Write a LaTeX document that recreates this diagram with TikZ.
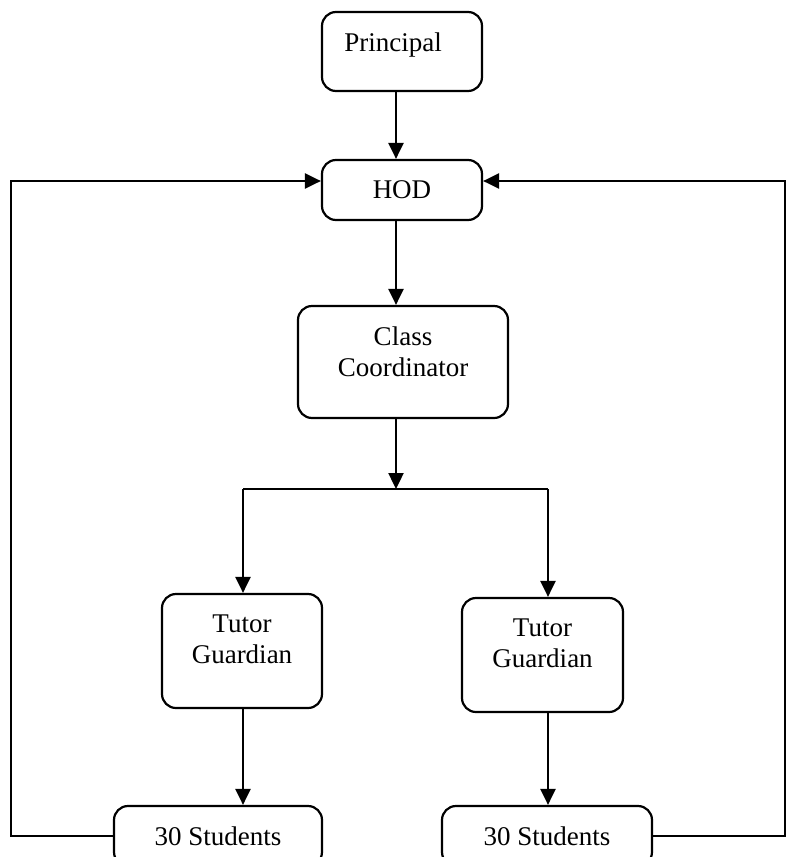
\documentclass[tikz,border=0pt]{standalone}
\usepackage{fontspec}
\setmainfont{Liberation Serif}
\usepackage{tikz}
\usetikzlibrary{arrows.meta,positioning,calc}
\tikzset{
  box/.style={rectangle,rounded corners=14pt,draw=black,line width=2.2pt,
              minimum width=160pt,inner sep=0pt},
  txt/.style={align=center,inner sep=3pt,font=\fontsize{27}{31}\selectfont},
  arr/.style={-{Triangle[length=16pt,width=15pt]},draw=black,line width=2.4pt},
  link/.style={draw=black,line width=2.4pt},
}

\begin{document}
\begin{tikzpicture}[x=1pt,y=-1pt]
  \useasboundingbox (0,0) rectangle (786,857);
  % boxes
  \node[box,minimum height=79pt] (principal) at (402,51.5) {};
  \node[box,minimum height=60pt] (hod) at (402,190) {};
  \node[box,minimum width=210pt,minimum height=112pt] (cc) at (403,362) {};
  \node[box,minimum height=114pt] (tgl) at (242,651) {};
  \node[box,minimum width=161pt,minimum height=114pt] (tgr) at (542.5,655) {};
  \node[box,minimum width=208pt,minimum height=60pt] (stl) at (218,836) {};
  \node[box,minimum width=210pt,minimum height=60pt] (str) at (547,836) {};
  % texts
  \node[txt,below=19pt of principal.north,xshift=-9pt] (principal-t) {Principal};
  \node[txt,below=19pt of hod.north] (hod-t) {HOD};
  \node[txt,below=19pt of cc.north] (cc-t) {Class\\Coordinator};
  \node[txt,below=19pt of tgl.north] (tgl-t) {Tutor\\Guardian};
  \node[txt,below=19pt of tgr.north] (tgr-t) {Tutor\\Guardian};
  \node[txt,below=19pt of stl.north] (stl-t) {30 Students};
  \node[txt,below=19pt of str.north] (str-t) {30 Students};
  % connectors
  \coordinate (spine) at (396,0);
  \coordinate (split) at (396,489);
  \coordinate (brl) at (243,489);
  \coordinate (brr) at (548,489);
  \coordinate (lx) at (11,181);
  \coordinate (rx) at (785,181);
  \draw[arr] (spine |- principal.south) -- (spine |- hod.north);
  \draw[arr] (spine |- hod.south) -- (spine |- cc.north);
  \draw[arr] (spine |- cc.south) -- (split);
  \draw[link] (brl) -- (brr);
  \draw[arr] (brl) -- (brl |- tgl.north);
  \draw[arr] (brr) -- (brr |- tgr.north);
  \draw[arr] (brl |- tgl.south) -- (brl |- stl.north);
  \draw[arr] (brr |- tgr.south) -- (brr |- str.north);
  \draw[arr] (stl.west) -| (lx) -- (lx -| hod.west);
  \draw[arr] (str.east) -| (rx) -- (rx -| hod.east);
\end{tikzpicture}
\end{document}
